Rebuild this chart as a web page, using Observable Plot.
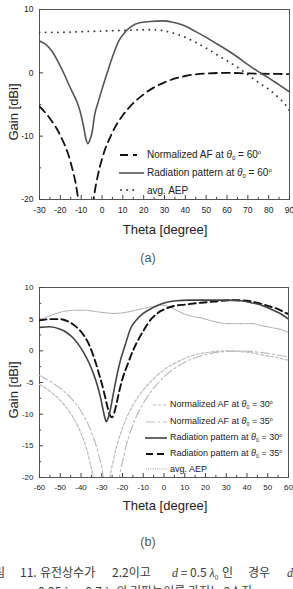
<!DOCTYPE html>
<html>
<head>
<meta charset="utf-8">
<script src="https://cdn.jsdelivr.net/npm/d3@7"></script>
<script src="https://cdn.jsdelivr.net/npm/@observablehq/plot@0.6"></script>
<style>
  body { margin: 0; width: 293px; height: 589px; overflow: hidden; position: relative; background: #fff;
         font-family: "Liberation Sans", Arial, sans-serif; color: #222; }
  .abs { position: absolute; white-space: nowrap; }
  .ttl { font-size: 13px; color: #222; }
  .cap { font-size: 12.5px; color: #555; }
  .leg { position: absolute; display: flex; align-items: center; white-space: nowrap; color: #222; }
  .leg svg { display: block; flex: none; }
  .leg sub { font-size: 0.6em; vertical-align: -0.35em; }
  .leg sup { font-size: 0.6em; vertical-align: 0.6em; }
  .kr { font-family: "Noto Sans CJK KR", sans-serif; font-size: 12px; color: #3a3a3a; line-height: 16px; font-weight: 400; }
  .mi { font-family: "Liberation Serif", serif; font-style: italic; }
</style>
</head>
<body>
<div id="chartA" class="abs" style="left:0;top:0"></div>
<div id="chartB" class="abs" style="left:0;top:270px"></div>

<div class="abs ttl" style="left:13px;top:112px;transform:translate(-50%,-50%) rotate(-90deg)">Gain [dBi]</div>
<div class="abs ttl" style="left:165px;top:229px;transform:translate(-50%,-50%)">Theta [degree]</div>
<div class="abs cap" style="left:148px;top:258px;transform:translate(-50%,-50%)">(a)</div>

<div class="abs ttl" style="left:13px;top:390px;transform:translate(-50%,-50%) rotate(-90deg)">Gain [dBi]</div>
<div class="abs ttl" style="left:165px;top:505px;transform:translate(-50%,-50%)">Theta [degree]</div>
<div class="abs cap" style="left:148px;top:542px;transform:translate(-50%,-50%)">(b)</div>

<div class="abs kr" style="left:-17px;top:564px">그림</div>
<div class="abs kr" style="left:20px;top:564px">11.</div>
<div class="abs kr" style="left:40px;top:564px">유전상수가</div>
<div class="abs kr" style="left:112px;top:564px">2.2이고</div>
<div class="abs kr" style="left:172px;top:564px"><span class="mi">d</span> = 0.5 <span class="mi">λ</span><sub style="font-size:7px">0</sub></div>
<div class="abs kr" style="left:222px;top:564px">인</div>
<div class="abs kr" style="left:248px;top:564px">경우</div>
<div class="abs kr" style="left:287px;top:564px"><span class="mi">d</span></div>
<div class="abs kr" style="left:38px;top:583px">0.25 <span class="mi">λ</span><sub style="font-size:7px">0</sub> ~ 0.7 <span class="mi">λ</span><sub style="font-size:7px">0</sub> 의 기판높이를 가지는 2소자</div>

<script>
// ---- (a) scan angle 60 deg ----
const thetaA_rad = [-30, -27, -24, -21, -18, -16, -14, -12, -10.5, -9, -7.8, -6.8, -5.8, -4.7, -3.5, -2, 0, 2.5, 5, 8, 11, 14, 18, 23, 29, 34, 39, 45, 50, 55, 60, 65, 70, 75, 80, 85, 90];
const gainA_rad  = [5.0, 4.5, 3.4, 1.7, -0.3, -1.8, -3.2, -4.6, -6.1, -8.2, -10.3, -11.2, -10.6, -9.3, -6.6, -4.8, -2.6, 0.0, 2.5, 5.0, 6.4, 7.3, 7.9, 8.1, 8.2, 8.0, 7.5, 6.5, 5.6, 4.6, 3.6, 2.5, 1.3, 0.2, -0.8, -1.9, -3.0];

const thetaA_af = [-30, -25, -20, -15, -12, -10, -7.7, -5, -4, -2, 0, 5, 10, 15, 20, 25, 30, 40, 50, 60, 70, 80, 90];
const gainA_af  = [-5.3, -7.2, -9.9, -14.2, -18.7, -24, -40, -22.7, -19.9, -16.2, -13.6, -9.4, -6.7, -4.8, -3.4, -2.3, -1.5, -0.5, -0.1, 0, -0.1, -0.15, -0.2];

const thetaA_aep = [-30, -20, -10, 0, 10, 20, 25, 30, 35, 40, 45, 50, 55, 60, 65, 70, 75, 80, 85, 88, 90];
const gainA_aep  = [6.4, 6.4, 6.5, 6.6, 6.7, 6.8, 6.8, 6.6, 6.2, 5.6, 4.8, 3.9, 2.9, 1.9, 0.9, -0.3, -1.5, -2.6, -4.0, -5.0, -6.0];

const xTicksA = [-30, -20, -10, 0, 10, 20, 30, 40, 50, 60, 70, 80, 90];
const yTicksA = [-20, -10, 0, 10];

// ---- (b) scan angles 30 / 35 deg ----
const thetaB_r30 = [-60, -55, -50, -47, -44, -41, -38.5, -36, -34, -32, -30.5, -29.3, -28.4, -27.8, -27, -26, -25, -23.8, -22.5, -21, -19, -16, -13, -10, -6, -2, 2, 6, 12, 20, 30, 37, 42, 46, 50, 54, 57, 60];
const gainB_r30  = [3.7, 3.8, 3.4, 2.9, 2.1, 0.9, -0.4, -2.0, -3.6, -5.6, -7.5, -9.4, -10.7, -11.2, -10.7, -9.5, -7.8, -5.7, -3.6, -1.5, 0.6, 3.6, 5.0, 5.9, 6.7, 7.3, 7.7, 7.9, 8.0, 8.0, 8.0, 7.9, 7.6, 7.3, 6.8, 6.2, 5.7, 5.0];

const thetaB_r35 = [-60, -55, -50, -46, -42, -39, -36, -33.5, -31, -29, -27.5, -26, -25, -24, -23, -21.5, -20, -17.7, -15, -12, -9.5, -6.5, -4, -1.5, 2, 5, 10, 18, 25, 33, 40, 46, 51, 55, 58, 60];
const gainB_r35  = [4.8, 5.0, 5.0, 4.6, 3.7, 2.6, 0.9, -1.3, -4.0, -6.4, -8.5, -10.2, -10.5, -9.8, -8.5, -6.3, -4.4, -2.3, 0.0, 2.0, 3.4, 4.9, 5.7, 6.3, 6.8, 7.1, 7.3, 7.6, 7.8, 8.0, 7.9, 7.5, 7.0, 6.6, 6.1, 5.8];

const thetaB_aep = [-60, -56, -52, -47, -43, -38, -33, -28, -24, -20, -15, -10, -5, -1, 3, 6, 10, 14, 18, 22, 26, 30, 36, 42, 48, 53, 57, 60];
const gainB_aep  = [4.8, 5.4, 5.9, 6.3, 6.4, 6.4, 6.2, 6.0, 5.9, 6.0, 6.3, 6.7, 7.0, 7.2, 6.9, 6.4, 5.8, 5.4, 5.2, 4.8, 4.5, 4.3, 4.3, 4.3, 3.9, 3.6, 3.3, 2.9];

const thetaB_af30 = [-60, -55, -50, -45, -40, -36, -33, -30, -27, -24, -20, -15, -10, -5, 0, 5, 10, 15, 20, 25, 30, 35, 40, 45, 50, 55, 60];
const gainB_af30  = [-5.3, -6.4, -7.8, -9.9, -13.0, -17.2, -23.1, -40, -22.8, -16.7, -12.2, -8.6, -6.2, -4.4, -3.0, -2.0, -1.2, -0.6, -0.3, -0.1, 0, -0.1, -0.2, -0.5, -0.8, -1.1, -1.5];

const thetaB_af35 = [-60, -55, -50, -45, -40, -35, -32, -29, -25.2, -22, -19, -15, -10, -5, 0, 5, 10, 15, 20, 25, 30, 35, 40, 45, 50, 55, 60];
const gainB_af35  = [-3.9, -4.8, -5.9, -7.4, -9.5, -12.8, -15.8, -20.8, -40, -21.8, -16.1, -11.7, -8.3, -5.9, -4.1, -2.8, -1.8, -1.1, -0.6, -0.25, -0.1, 0, -0.05, -0.2, -0.4, -0.7, -0.95];

const xTicksB = [-60, -50, -40, -30, -20, -10, 0, 10, 20, 30, 40, 50, 60];
const yTicksB = [-20, -15, -10, -5, 0, 5, 10];

const pts = (t, g) => t.map((x, i) => ({x, y: g[i]}));

// line styles shared by the curves and the legend swatches
const S = {
  aRad: {stroke: "#555", strokeWidth: 1.6},
  aAf:  {stroke: "#111", strokeWidth: 1.8, strokeDasharray: "8 5"},
  aAep: {stroke: "#333", strokeWidth: 1.8, strokeDasharray: "0.1 6", strokeLinecap: "round"},
  bR30: {stroke: "#444", strokeWidth: 1.6},
  bR35: {stroke: "#111", strokeWidth: 1.9, strokeDasharray: "7 4"},
  bAep: {stroke: "#999", strokeWidth: 1, strokeDasharray: "1 1.2"},
  bA30: {stroke: "#bbb", strokeWidth: 1.2, strokeDasharray: "3 2"},
  bA35: {stroke: "#bbb", strokeWidth: 1.2, strokeDasharray: "9 3 2 3"}
};

function frameAxes(xt, yt, xMinor, yMinor, fontSize) {
  const fmt = d => String(d);
  return [
    Plot.frame({stroke: "#555", strokeWidth: 1}),
    Plot.axisX({ticks: xt, tickSize: 0, tickPadding: 7, tickFormat: fmt, label: null, fill: "#222", fontSize}),
    Plot.axisY({ticks: yt, tickSize: 0, tickPadding: 6, tickFormat: fmt, label: null, fill: "#222", fontSize}),
    Plot.axisX({ticks: xt, tickSize: 4, dy: -4, fill: "none", label: null, stroke: "#444"}),
    Plot.axisX({ticks: xMinor, tickSize: 2.2, dy: -2.2, fill: "none", label: null, stroke: "#444"}),
    Plot.axisY({ticks: yt, tickSize: 4, dx: 4, fill: "none", label: null, stroke: "#444"}),
    Plot.axisY({ticks: yMinor, tickSize: 2.2, dx: 2.2, fill: "none", label: null, stroke: "#444"})
  ];
}

const line = (t, g, s) => Plot.line(pts(t, g), {x: "x", y: "y", curve: "monotone-x", clip: true, ...s});

const chartA = Plot.plot({
  width: 293, height: 240,
  marginTop: 9, marginBottom: 41, marginLeft: 39, marginRight: 4,
  style: {fontFamily: '"Liberation Sans", Arial, sans-serif', background: "transparent", color: "#222"},
  x: {domain: [-30, 90]},
  y: {domain: [-20, 10]},
  marks: [
    ...frameAxes(xTicksA, yTicksA, d3.range(-25, 90, 10), d3.range(-15, 10, 10), 8.5),
    line(thetaA_af, gainA_af, S.aAf),
    line(thetaA_aep, gainA_aep, S.aAep),
    line(thetaA_rad, gainA_rad, S.aRad)
  ]
});
document.getElementById("chartA").append(chartA);

const chartB = Plot.plot({
  width: 293, height: 250,
  marginTop: 17, marginBottom: 43, marginLeft: 39, marginRight: 5,
  style: {fontFamily: '"Liberation Sans", Arial, sans-serif', background: "transparent", color: "#222"},
  x: {domain: [-60, 60]},
  y: {domain: [-20, 10]},
  marks: [
    ...frameAxes(xTicksB, yTicksB, d3.range(-55, 60, 10), d3.range(-17.5, 10, 5), 8),
    line(thetaB_af30, gainB_af30, S.bA30),
    line(thetaB_af35, gainB_af35, S.bA35),
    line(thetaB_aep, gainB_aep, S.bAep),
    line(thetaB_r35, gainB_r35, S.bR35),
    line(thetaB_r30, gainB_r30, S.bR30)
  ]
});
document.getElementById("chartB").append(chartB);

// legends drawn inside the plot frames: swatch start/end offsets and text column
const legendA = [
  {s: S.aAf,  x0: 1, x1: 18, text: "Normalized AF at <i>θ</i><sub>0</sub> = 60<sup>o</sup>"},
  {s: S.aRad, x0: 0, x1: 25, text: "Radiation pattern at <i>θ</i><sub>0</sub> = 60<sup>o</sup>"},
  {s: S.aAep, x0: 2, x1: 19, text: "avg. AEP"}
];
const legendB = [
  {s: S.bA30, x0: 8, x1: 22, text: "Normalized AF at <i>θ</i><sub>0</sub> = 30<sup>o</sup>"},
  {s: S.bA35, x0: 1, x1: 22, text: "Normalized AF at <i>θ</i><sub>0</sub> = 35<sup>o</sup>"},
  {s: S.bR30, x0: 0, x1: 22, text: "Radiation pattern at <i>θ</i><sub>0</sub> = 30<sup>o</sup>"},
  {s: S.bR35, x0: 1, x1: 22, text: "Radiation pattern at <i>θ</i><sub>0</sub> = 35<sup>o</sup>"},
  {s: S.bAep, x0: 1, x1: 22, text: "avg. AEP"}
];

function legend(items, left, tops, swatchW, gap, fontSize) {
  items.forEach((it, i) => {
    const row = document.createElement("div");
    row.className = "leg";
    row.style.left = left + "px";
    row.style.top = (tops[i] - 7) + "px";
    row.style.height = "14px";
    row.style.fontSize = fontSize + "px";
    const s = it.s;
    row.innerHTML =
      `<svg width="${swatchW}" height="14"><line x1="${it.x0}" y1="7" x2="${it.x1}" y2="7" stroke="${s.stroke}" stroke-width="${s.strokeWidth}" stroke-dasharray="${s.strokeDasharray || "none"}" stroke-linecap="${s.strokeLinecap || "butt"}"/></svg>` +
      `<span style="margin-left:${gap}px">${it.text}</span>`;
    document.body.append(row);
  });
}
legend(legendA, 119, [155, 173, 190], 26, 2, 10);
legend(legendB, 145, [405, 421.5, 437.5, 453.5, 469], 22, 3, 9);
</script>
</body>
</html>
